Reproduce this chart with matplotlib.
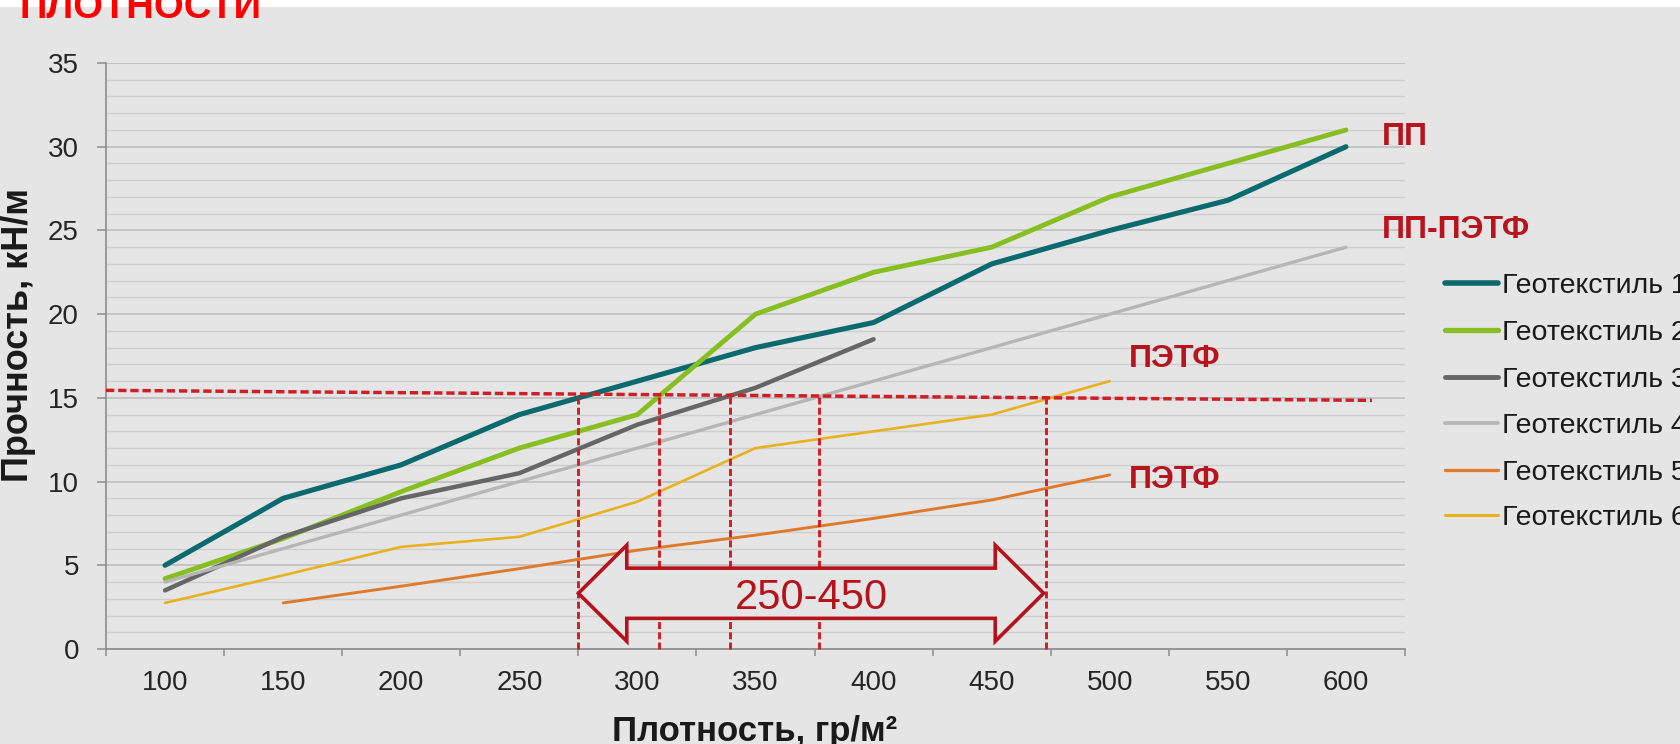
import numpy as np
import matplotlib
matplotlib.use("Agg")
import matplotlib.pyplot as plt
from matplotlib.patches import Polygon, Rectangle
from matplotlib.lines import Line2D

plt.rcParams['font.family'] = ['Liberation Sans', 'DejaVu Sans']

# ---- data -------------------------------------------------------------
density = [100, 150, 200, 250, 300, 350, 400, 450, 500, 550, 600]

geo1 = [5.0, 9.0, 11.0, 14.0, 16.0, 18.0, 19.5, 23.0, 25.0, 26.8, 30.0]
geo2 = [4.2, 6.6, 9.4, 12.0, 14.0, 20.0, 22.5, 24.0, 27.0, 29.0, 31.0]
geo3 = [3.5, 6.7, 9.0, 10.5, 13.4, 15.6, 18.5, None, None, None, None]
geo4 = [4.0, 6.0, 8.0, 10.0, 12.0, 14.0, 16.0, 18.0, 20.0, 22.0, 24.0]
geo5 = [None, 2.75, 3.75, 4.8, 5.9, 6.8, 7.8, 8.9, 10.4, None, None]
geo6 = [2.75, 4.4, 6.1, 6.7, 8.8, 12.0, 13.0, 14.0, 16.0, None, None]

series_names = ["Геотекстиль 1", "Геотекстиль 2", "Геотекстиль 3",
                "Геотекстиль 4", "Геотекстиль 5", "Геотекстиль 6"]
series_values = [geo1, geo2, geo3, geo4, geo5, geo6]
series_colors = ["#0B6A6E", "#86BF1F", "#666666", "#B6B6B6", "#E07A2A", "#E8B11E"]
series_widths = [3.7, 3.5, 3.2, 2.4, 2.1, 1.9]

# required-strength reference line and where each material reaches it
ref_density = [75, 611]
ref_strength = [15.45, 14.85]
cross_density = [275, 309, 339, 377, 473]

# recommended density range arrow
arrow_span = [275, 472]
arrow_level = 3.33
arrow_text = "250-450"

# fibre type annotations: (text, density, strength)
fibre_labels = [("ПП", 615, 30.8), ("ПП-ПЭТФ", 615, 25.25),
                ("ПЭТФ", 508, 17.55), ("ПЭТФ", 508, 10.3)]

BG = "#E5E5E5"
RED_DASH = "#D01E26"
DARK_RED = "#B5121B"
W, H = 1680, 744


def to_idx(d):
    """Category-axis position of a density value."""
    return (np.asarray(d, dtype=float) - density[0]) / (density[1] - density[0])


def fx(px):
    return px / W


def fy(py):
    return 1 - py / H


fig = plt.figure(figsize=(W / 100, H / 100), dpi=100, facecolor=BG)
fig.patches.append(Rectangle((0, fy(7)), 1, 7 / H, transform=fig.transFigure,
                             facecolor="white", edgecolor="none", zorder=0))

ax = fig.add_axes([fx(106), fy(649), fx(1405) - fx(106), fy(63) - fy(649)])
ax.set_facecolor(BG)
ax.set_xlim(-0.5, len(density) - 0.5)
ax.set_ylim(0, 35)

# grid
ax.set_axisbelow(True)
ax.set_yticks(range(0, 36, 5))
ax.set_yticks(range(0, 36, 1), minor=True)
ax.grid(axis="y", which="minor", color="#CECECE", lw=1.0)
ax.grid(axis="y", which="major", color="#BBBBBB", lw=1.1)

for s in ("top", "right"):
    ax.spines[s].set_visible(False)
for s in ("left", "bottom"):
    ax.spines[s].set_color("#8C8C8C")
    ax.spines[s].set_linewidth(1.2)

ax.set_xticks(range(len(density)))
ax.set_xticklabels([str(d) for d in density])
ax.set_xticks(np.arange(-0.5, len(density), 1), minor=True)
ax.tick_params(axis="x", which="major", length=0, pad=15, labelsize=20,
               labelcolor="#262626")
ax.tick_params(axis="x", which="minor", length=5, width=1.1, color="#8C8C8C",
               direction="out")
ax.tick_params(axis="y", which="major", length=6.5, width=1.1, color="#8C8C8C",
               pad=13, labelsize=20, labelcolor="#262626")
ax.tick_params(axis="y", which="minor", length=0)

# series
xi = to_idx(density)
for vals, col, lw in zip(series_values, series_colors, series_widths):
    y = np.array([np.nan if v is None else v for v in vals])
    ax.plot(xi, y, color=col, lw=lw, solid_joinstyle="round",
            solid_capstyle="round", zorder=3)

# reference line + drops to the axis
dash = (0, (2.4, 1.1))
ax.plot(to_idx(ref_density), ref_strength, color=RED_DASH, lw=2.5,
        linestyle=dash, zorder=4, clip_on=False)
for d in cross_density:
    top = np.interp(d, ref_density, ref_strength)
    ax.plot([to_idx(d)] * 2, [0, top], color=RED_DASH, lw=2.1,
            linestyle=dash, zorder=4, clip_on=False)

# double-headed range arrow
a0, a1 = to_idx(arrow_span[0]), to_idx(arrow_span[1])
hl, hh, sh, c = 0.41, 2.87, 1.5, arrow_level
pts = [(a0, c), (a0 + hl, c + hh), (a0 + hl, c + sh), (a1 - hl, c + sh),
       (a1 - hl, c + hh), (a1, c), (a1 - hl, c - hh), (a1 - hl, c - sh),
       (a0 + hl, c - sh), (a0 + hl, c - hh)]
ax.add_patch(Polygon(pts, closed=True, facecolor=BG, edgecolor=DARK_RED,
                     lw=2.6, joinstyle="miter", zorder=5))
ax.text((a0 + a1) / 2, c, arrow_text, ha="center", va="center_baseline",
        fontsize=30, color=DARK_RED, zorder=6)

for txt, d, v in fibre_labels:
    ax.text(to_idx(d), v, txt, ha="left", va="center_baseline", fontsize=23,
            fontweight="bold", color="#B8141E", zorder=6, clip_on=False)

# legend
row_y = [283.3, 330, 376.7, 423.3, 470, 515]
for name, col, lw, ry in zip(series_names, series_colors, series_widths, row_y):
    fig.add_artist(Line2D([fx(1445), fx(1498)], [fy(ry), fy(ry)],
                          transform=fig.transFigure, color=col, lw=lw + 0.3,
                          solid_capstyle="round"))
    fig.text(fx(1502), fy(ry), name, ha="left", va="center_baseline",
             fontsize=20.5, color="#1A1A1A")

# axis titles and heading
fig.text(fx(19), fy(335), "Прочность, кН/м", rotation=90, ha="center",
         va="center", fontsize=26, fontweight="bold", color="#1A1A1A")
fig.text(fx(755), fy(741), "Плотность, гр/м²", ha="center", va="baseline",
         fontsize=25, fontweight="bold", color="#1A1A1A")
fig.text(fx(19), fy(18), "ПЛОТНОСТИ", ha="left", va="baseline",
         fontsize=27.5, fontweight="bold", color="#FF0000")

fig.savefig("out.png", dpi=100, facecolor=BG)
